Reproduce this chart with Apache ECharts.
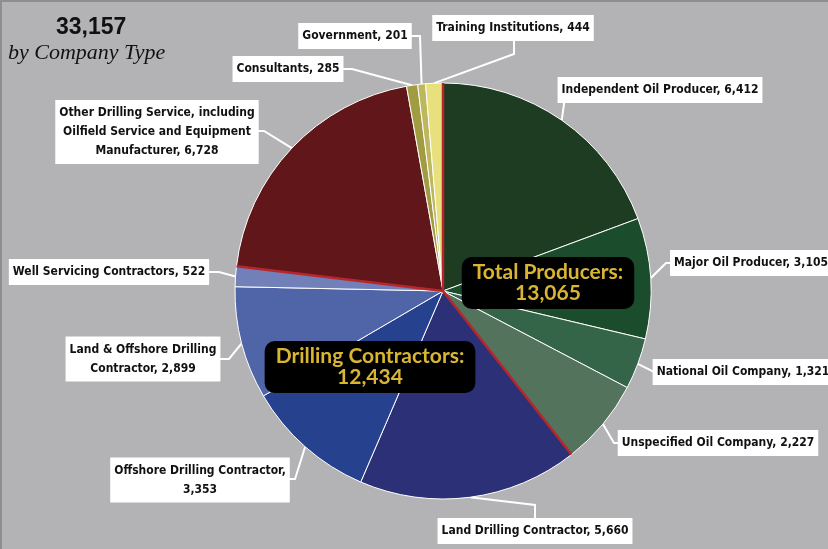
<!DOCTYPE html>
<html>
<head>
<meta charset="utf-8">
<script src="https://cdn.jsdelivr.net/npm/echarts@6/dist/echarts.min.js"></script>
<style>
  html, body { margin: 0; padding: 0; background: #b3b3b5; }
  #chart {
    position: absolute; left: 0; top: 0; width: 826px; height: 547px;
    border-left: 2px solid #8e8e90; border-top: 2px solid #8e8e90;
    background: #b3b3b5;
  }
</style>
</head>
<body>
<div id="chart"></div>
<script>
// company types, clockwise from 12 o'clock
const categories = [
  'Independent Oil Producer', 'Major Oil Producer', 'National Oil Company', 'Unspecified Oil Company',
  'Land Drilling Contractor', 'Offshore Drilling Contractor', 'Land & Offshore Drilling Contractor',
  'Well Servicing Contractors', 'Other Drilling Service, including Oilfield Service and Equipment Manufacturer',
  'Consultants', 'Government', 'Training Institutions'
];
const counts = [6412, 3105, 1321, 2227, 5660, 3353, 2899, 522, 6728, 285, 201, 444];
// label text as printed (with line breaks)
const labelPrefix = [
  'Independent Oil Producer, ', 'Major Oil Producer, ', 'National Oil Company, ', 'Unspecified Oil Company, ',
  'Land Drilling Contractor, ', 'Offshore Drilling Contractor,\n', 'Land & Offshore Drilling\nContractor, ',
  'Well Servicing Contractors, ', 'Other Drilling Service, including\nOilfield Service and Equipment\nManufacturer, ',
  'Consultants, ', 'Government, ', 'Training Institutions, '
];
const sliceColors = [
  '#1e3c22', '#1b4c2b', '#356548', '#53735c',
  '#2c3076', '#26418e', '#5064a8', '#7180b9',
  '#611619', '#a19b42', '#bdb75e', '#e8e07c'
];
// groups: first index of each group
const groupNames = ['Total Producers', 'Drilling Contractors', 'Other'];
const groupStarts = [0, 4, 8];

// label box centre, elbow, end of leader line
const labelSpots = [
  [658, 88, 564, 88, 572, 88],
  [749, 261, 664, 261, 674, 261],
  [741, 370, 652, 370, 662, 370],
  [716, 441, 612, 441, 624, 441],
  [533, 529, 533, 503, 533, 516],
  [198, 478, 293, 477, 283, 477],
  [141, 357, 227, 357, 213, 357],
  [107, 270, 217, 270, 203, 270],
  [155, 130, 262, 129, 250, 129],
  [286, 67, 350, 67, 336, 67],
  [353, 34, 418, 34, 403, 34],
  [511, 26, 512, 52, 512, 39]
];
const groupLabelSpots = [[546, 281], [368, 365]];

const CX = 441, CY = 289, R = 208;
const fmt = (n) => n.toLocaleString('en-US');
const total = counts.reduce((a, b) => a + b, 0);
const groupSums = groupStarts.map((s, i) => {
  const e = i + 1 < groupStarts.length ? groupStarts[i + 1] : counts.length;
  return counts.slice(s, e).reduce((a, b) => a + b, 0);
});

function rimPoint(cum) {
  const a = 2 * Math.PI * cum / total;
  return [CX + R * Math.sin(a), CY - R * Math.cos(a)];
}

const chart = echarts.init(document.getElementById('chart'), null, { renderer: 'canvas' });

// red separators at group boundaries
const graphics = [];
let cum = 0;
groupSums.forEach((g) => {
  const p = rimPoint(cum);
  graphics.push({
    type: 'line', z: 100,
    shape: { x1: CX, y1: CY, x2: p[0], y2: p[1] },
    style: { stroke: '#b8262c', lineWidth: 2.5 }
  });
  cum += g;
});
// group total boxes
groupLabelSpots.forEach((s, i) => {
  graphics.push({
    type: 'text', z: 110, x: s[0], y: s[1],
    style: {
      text: groupNames[i] + ':\n' + fmt(groupSums[i]),
      font: 'bold 21px Lato, "Open Sans", sans-serif',
      fill: '#d9b531', align: 'center', verticalAlign: 'middle',
      lineHeight: 21, backgroundColor: '#000', borderRadius: 10,
      padding: [5, 11, 5, 11]
    }
  });
});

chart.setOption({
  backgroundColor: '#b3b3b5',
  animation: false,
  title: [{
    text: fmt(total),
    left: 49, top: 9,
    textStyle: { fontFamily: 'Liberation Sans, Arial, sans-serif', fontWeight: 'bold', fontSize: 23, color: '#111' }
  }, {
    text: 'by Company Type',
    left: 1, top: 35,
    textStyle: { fontFamily: 'Liberation Serif, serif', fontStyle: 'italic', fontWeight: 'normal', fontSize: 22, color: '#111' }
  }],
  graphic: graphics,
  series: [{
    type: 'pie',
    center: [CX, CY],
    radius: R,
    startAngle: 90,
    clockwise: true,
    avoidLabelOverlap: false,
    itemStyle: { borderColor: '#ffffff', borderWidth: 1 },
    label: {
      show: true,
      position: 'outside',
      formatter: (p) => labelPrefix[p.dataIndex] + fmt(p.value),
      fontFamily: '"DejaVu Sans Condensed", "Liberation Sans Narrow", sans-serif',
      fontWeight: 'bold', fontSize: 12, color: '#111',
      align: 'center', lineHeight: 19,
      backgroundColor: '#ffffff', padding: [4, 4, 3, 4]
    },
    labelLine: { show: true, length: 10, length2: 10, lineStyle: { color: '#ffffff', width: 2 } },
    labelLayout: (p) => {
      const s = labelSpots[p.dataIndex];
      let c = 0;
      for (let i = 0; i < p.dataIndex; i++) c += counts[i];
      const start = rimPoint(c + counts[p.dataIndex] / 2);
      return {
        x: s[0], y: s[1], align: 'center', verticalAlign: 'middle',
        labelLinePoints: [start, [s[2], s[3]], [s[4], s[5]]]
      };
    },
    data: categories.map((name, i) => ({
      name: name, value: counts[i], itemStyle: { color: sliceColors[i] }
    }))
  }]
});
</script>
</body>
</html>
